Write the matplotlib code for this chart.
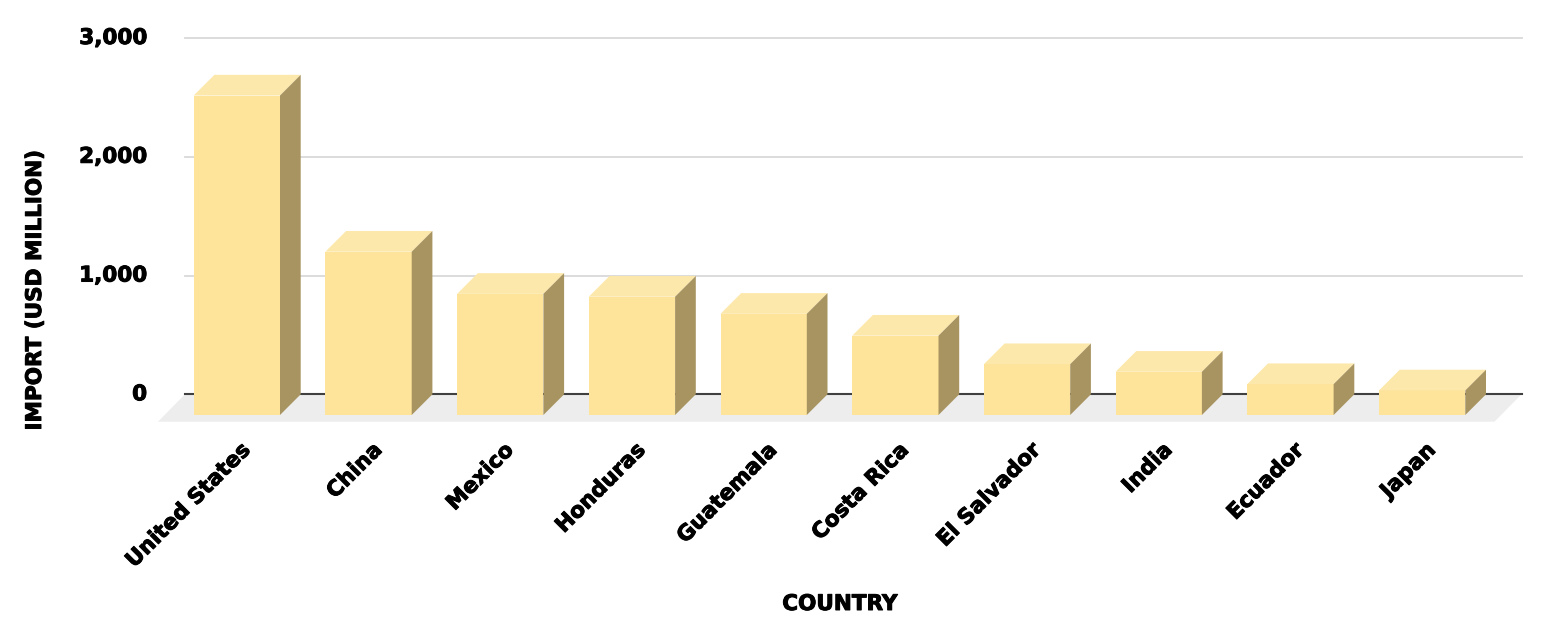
import matplotlib
matplotlib.use("Agg")
import matplotlib.pyplot as plt
import matplotlib.patheffects as pe
import numpy as np

countries = ["United States", "China", "Mexico", "Honduras", "Guatemala",
             "Costa Rica", "El Salvador", "India", "Ecuador", "Japan"]
imports = [2690, 1375, 1020, 996, 852, 668, 428, 364, 260, 207]
yticks = [0, 1000, 2000, 3000]
ytick_labels = ["0", "1,000", "2,000", "3,000"]

FRONT = "#FEE39A"
TOP = "#FDE8AB"
SIDE = "#A89461"
FLOOR = "#EDEDED"

plt.rcParams['font.family'] = ['DejaVu Sans']
FS = 15.5
heavy = [pe.withStroke(linewidth=0.7, foreground="black")]

W, H = 1551, 640
fig = plt.figure(figsize=(W / 100, H / 100), dpi=100)

# axes placed in pixels: x 140..1540, y 20..440 (from top)
ax = fig.add_axes([140 / W, (H - 440) / H, 1400 / W, 420 / H])
pxx = 131.7            # px per category
pxy = 356.3 / 3000     # px per unit
x0 = 236.85            # px of first bar centre
ax.set_xlim((140 - x0) / pxx, (1540 - x0) / pxx)
ax.set_ylim(-(440 - 394.3) / pxy, (394.3 - 20) / pxy)
ax.axis("off")

w = 86.3 / pxx          # bar width
dx = 20.7 / pxx         # depth offset
dy = 20.7 / pxy
fdx = 27 / pxx          # floor depth
fdy = 27.4 / pxy
gx0 = (185 - x0) / pxx
gx1 = (1521.5 - x0) / pxx

# floor
ax.fill([gx0, gx1, gx1 - fdx, gx0 - fdx], [0, 0, -fdy, -fdy],
        color=FLOOR, lw=0, zorder=1)
# gridlines
for t in yticks[1:]:
    ax.plot([gx0, gx1], [t, t], color="#D9D9D9", lw=1.3, zorder=1)
ax.plot([gx0, gx1], [0, 0], color="#404040", lw=1.5, zorder=2)

for i, v in enumerate(imports):
    l, r = i - w / 2, i + w / 2
    ax.fill([l, r, r, l], [-dy, -dy, v - dy, v - dy], color=FRONT, lw=0, zorder=3)
    ax.fill([l, r, r + dx, l + dx], [v - dy, v - dy, v, v], color=TOP, lw=0, zorder=3)
    ax.fill([r, r + dx, r + dx, r], [-dy, 0, v, v - dy], color=SIDE, lw=0, zorder=3)

for t, lab in zip(yticks, ytick_labels):
    ax.text(gx0 - 38 / pxx, t, lab, ha="right", va="center",
            fontsize=FS, fontweight="bold", path_effects=heavy)

for i, c in enumerate(countries):
    ax.text(i + 10 / pxx, -(447 - 394.3) / pxy, c, rotation=45,
            rotation_mode="anchor", ha="right", va="center",
            fontsize=FS, fontweight="bold", path_effects=heavy)

fig.text(35 / W, 1 - 290 / H, "IMPORT (USD MILLION)", rotation=90,
         ha="center", va="center", fontsize=FS, fontweight="bold",
         path_effects=heavy)
fig.text(840 / W, 1 - 604 / H, "COUNTRY", ha="center", va="center",
         fontsize=FS, fontweight="bold", path_effects=heavy)

fig.savefig("out.png", dpi=100)
